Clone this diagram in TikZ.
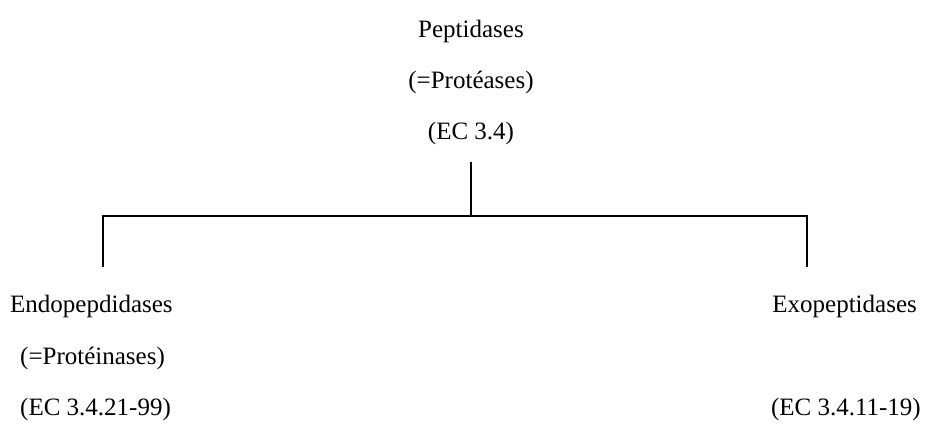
\documentclass[tikz,border=0pt]{standalone}
\usepackage{fontspec}
\setmainfont{Liberation Serif}
\usepackage{tikz}

\begin{document}
\begin{tikzpicture}[x=1pt,y=1pt,
term/.style={inner sep=0pt,anchor=base,font=\fontsize{25}{29}\selectfont},
branch/.style={line width=1.5pt}]
\useasboundingbox (0,0) rectangle (926,-427);
\node[term] (pep) at (471,-38) {Peptidases};
\node[term] (pepalt) at (471,-89) {(=Protéases)};
\node[term] (pepec) at (471,-140) {(EC 3.4)};
\node[term,anchor=base west] (endo) at (10,-313) {Endopepdidases};
\node[term,anchor=base west] (endoalt) at (20,-364) {(=Protéinases)};
\node[term,anchor=base west] (endoec) at (20,-415) {(EC 3.4.21-99)};
\node[term,anchor=base east] (exo) at (917,-313) {Exopeptidases};
\node[term,anchor=base east] (exoec) at (921,-415) {(EC 3.4.11-19)};
\coordinate (stem) at (471,-162);
\coordinate (fork) at (471,-216);
\coordinate (leftend) at (103,-267);
\coordinate (rightend) at (807,-267);
\draw[branch] (stem) -- (fork);
\draw[branch] (leftend) |- (fork) -| (rightend);
\end{tikzpicture}
\end{document}
